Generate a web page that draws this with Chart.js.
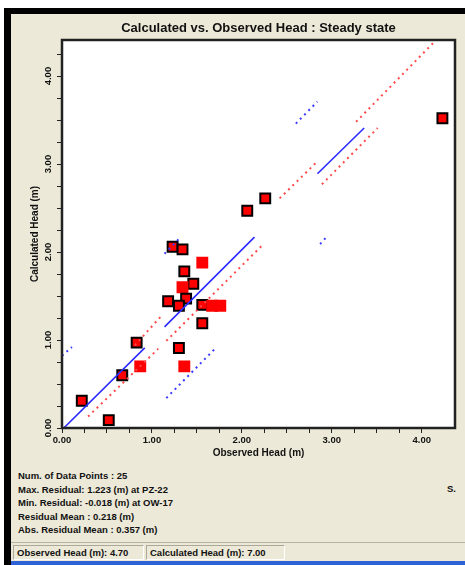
<!DOCTYPE html>
<html><head><meta charset="utf-8">
<script src="https://cdn.jsdelivr.net/npm/chart.js@4.4.1/dist/chart.umd.min.js"></script>
<style>
html,body{margin:0;padding:0;background:#fff;width:465px;height:565px;overflow:hidden;font-family:"Liberation Sans",Arial,sans-serif;}
#frame{position:absolute;left:4px;top:8px;width:461px;height:557px;background:#000;}
#panel{position:absolute;left:11px;top:14px;width:454px;height:528px;background:#ECE9D8;}
#wrap{position:absolute;left:11px;top:14px;width:454px;height:446px;}
#stats{position:absolute;left:18px;top:469px;font:bold 9.5px "Liberation Sans",Arial,sans-serif;color:#111;line-height:13.5px;white-space:pre;}
#side{position:absolute;left:447px;top:483px;font:bold 9.5px "Liberation Sans",Arial,sans-serif;color:#111;}
#status{position:absolute;left:11px;top:542px;width:454px;height:19px;background:#ECE9D8;border-top:1px solid #b8b4a2;box-sizing:border-box;}
.cell{position:absolute;top:2px;height:15px;box-sizing:border-box;border-left:1px solid #aca899;border-top:1px solid #aca899;border-right:1px solid #fff;border-bottom:1px solid #fff;font:bold 9.5px "Liberation Sans",Arial,sans-serif;color:#111;line-height:13px;padding-left:3px;white-space:nowrap;}
#blue{position:absolute;left:11px;top:561px;width:454px;height:4px;background:#2f62d6;}
</style></head>
<body>
<div id="frame"></div>
<div id="panel"></div>
<div id="wrap"><canvas id="c" width="454" height="446"></canvas></div>
<div id="stats"></div>
<div id="side">S.</div>
<div id="status"><div class="cell" id="s1" style="left:2px;width:131px"></div><div class="cell" id="s2" style="left:135px;width:139px"></div></div>
<div id="blue"></div>
<script>
// ---- data ----
const observed   = [2.06, 1.23, 1.34, 1.56, 1.36, 1.46, 1.34, 1.18, 1.38, 1.30, 1.56, 1.67, 1.76, 1.56, 0.83, 1.30, 0.87, 1.36, 0.67, 0.22, 0.52, 2.26, 4.23];
const calculated = [2.47, 2.06, 2.03, 1.88, 1.78, 1.64, 1.60, 1.44, 1.47, 1.39, 1.40, 1.39, 1.39, 1.19, 0.97, 0.91, 0.70, 0.70, 0.60, 0.31, 0.09, 2.61, 3.52];
const outlined   = [1,1,1,0,1,1,0,1,1,1,1,0,0,1,1,1,0,0,1,1,1,1,1];
// line segments [x0, y0, x1, y1]
const fitSegments      = [[0.02,0.00,0.92,0.91],[1.14,1.15,2.14,2.17],[2.84,2.89,3.36,3.41]];
const confUpperSegs    = [[0.81,0.94,1.11,1.28],[2.42,2.61,2.83,3.02],[3.27,3.48,4.16,4.41]];
const confLowerSegs    = [[0.29,0.13,1.07,0.90],[1.16,0.99,2.22,2.07],[2.89,2.77,3.51,3.41]];
const predUpperSegs    = [[0.00,0.82,0.11,0.92],[1.14,1.98,1.30,2.15],[2.60,3.46,2.84,3.71]];
const predLowerSegs    = [[1.16,0.34,1.70,0.90],[2.87,2.09,2.94,2.17]];
const xTickValues = [0,1,2,3,4];
const xTickLabels = ['0.00','1.00','2.00','3.00','4.00'];
const yTickValues = [0,1,2,3,4];
const yTickLabels = ['0.00','1.00','2.00','3.00','4.00'];
const statLines = [
  'Num. of Data Points : 25',
  'Max. Residual: 1.223 (m) at PZ-22',
  'Min. Residual: -0.018 (m) at OW-17',
  'Residual Mean : 0.218 (m)',
  'Abs. Residual Mean : 0.357 (m)'
];
const statusObserved = 'Observed Head (m): 4.70';
const statusCalculated = 'Calculated Head (m): 7.00';

document.getElementById('stats').textContent = statLines.join('\n');
document.getElementById('s1').textContent = statusObserved;
document.getElementById('s2').textContent = statusCalculated;

const FAM = '"Liberation Sans", Arial, sans-serif';
const segData = segs => segs.flatMap(s => [{x:s[0],y:s[1]},{x:s[2],y:s[3]},{x:null,y:null}]);
const quarter = scale => { scale.ticks = scale.ticks.filter(t => Math.abs(t.value*4 - Math.round(t.value*4)) < 1e-6); };

const pts = observed.map((x,i)=>({x, y: calculated[i]}));

const bgPlugin = {
  id:'bg',
  beforeDraw(chart){
    const {ctx, chartArea:a} = chart;
    ctx.save(); ctx.fillStyle='#fff'; ctx.fillRect(a.left,a.top,a.right-a.left,a.bottom-a.top); ctx.restore();
  },
  afterDatasetsDraw(chart){
    const {ctx, chartArea:a} = chart;
    ctx.save(); ctx.strokeStyle='#222'; ctx.lineWidth=2.5;
    ctx.strokeRect(a.left,a.top,a.right-a.left,a.bottom-a.top); ctx.restore();
  },
  afterDraw(chart){
    const {ctx} = chart; const ys = chart.scales.y;
    ctx.save();
    ctx.font = 'bold 9.5px ' + FAM; ctx.fillStyle='#111';
    ctx.textAlign='center'; ctx.textBaseline='middle';
    yTickValues.forEach((v,i)=>{
      const py = ys.getPixelForValue(v);
      ctx.save(); ctx.translate(37, py); ctx.rotate(-Math.PI/2);
      ctx.fillText(yTickLabels[i], 0, 0); ctx.restore();
    });
    ctx.restore();
  }
};

new Chart(document.getElementById('c'), {
  type:'scatter',
  data:{ datasets:[
    {type:'line', data:segData(fitSegments), borderColor:'#2b2bff', borderWidth:1.6, pointRadius:0, spanGaps:false, order:0},
    {type:'line', data:segData(confUpperSegs), borderColor:'#ff4a4a', borderWidth:2, borderDash:[2,4], pointRadius:0, spanGaps:false, order:0},
    {type:'line', data:segData(confLowerSegs), borderColor:'#ff4a4a', borderWidth:2, borderDash:[2,4], pointRadius:0, spanGaps:false, order:0},
    {type:'line', data:segData(predUpperSegs), borderColor:'#3a3aff', borderWidth:2, borderDash:[2,4], pointRadius:0, spanGaps:false, order:0},
    {type:'line', data:segData(predLowerSegs), borderColor:'#3a3aff', borderWidth:2, borderDash:[2,4], pointRadius:0, spanGaps:false, order:0},
    {data:pts, pointStyle:'rect', pointRadius:7, pointHoverRadius:7, backgroundColor:'#ff0000',
     borderColor: outlined.map(o=>o?'#000':'#ff0000'), borderWidth:2, clip:0, order:1}
  ]},
  options:{
    responsive:false, animation:false, devicePixelRatio:1,
    layout:{padding:{left:0,right:10,top:0,bottom:0}},
    plugins:{
      legend:{display:false}, tooltip:{enabled:false},
      title:{display:true, fullSize:false, text:'Calculated vs. Observed Head : Steady state',
        font:{size:13, weight:'bold', family:FAM}, color:'#111', padding:{top:7,bottom:3.4}}
    },
    scales:{
      x:{type:'linear', min:0, max:4.37, afterBuildTicks:quarter,
         ticks:{stepSize:0.25, autoSkip:false, maxRotation:0, minRotation:0, padding:2,
           font:{size:9.5, weight:'bold', family:FAM}, color:'#111',
           callback:(v)=>{ const i = xTickValues.findIndex(t=>Math.abs(t-v)<1e-6); return i>=0 ? xTickLabels[i] : ''; }},
         grid:{drawOnChartArea:false, drawTicks:true, tickLength:5, color:'#222'},
         border:{display:false},
         title:{display:true, text:'Observed Head (m)', font:{size:10, weight:'bold', family:FAM}, color:'#111', padding:{top:0,bottom:1}},
         afterFit(s){ s.height = 32; }},
      y:{type:'linear', min:0, max:4.41, afterBuildTicks:quarter,
         ticks:{stepSize:0.25, display:false},
         grid:{drawOnChartArea:false, drawTicks:true, tickLength:5, color:'#222'},
         border:{display:false},
         title:{display:true, text:'Calculated Head (m)', font:{size:10, weight:'bold', family:FAM}, color:'#111', padding:{top:18,bottom:0}},
         afterFit(s){ s.width = 51; }}
    }
  },
  plugins:[bgPlugin]
});
</script>
</body></html>
